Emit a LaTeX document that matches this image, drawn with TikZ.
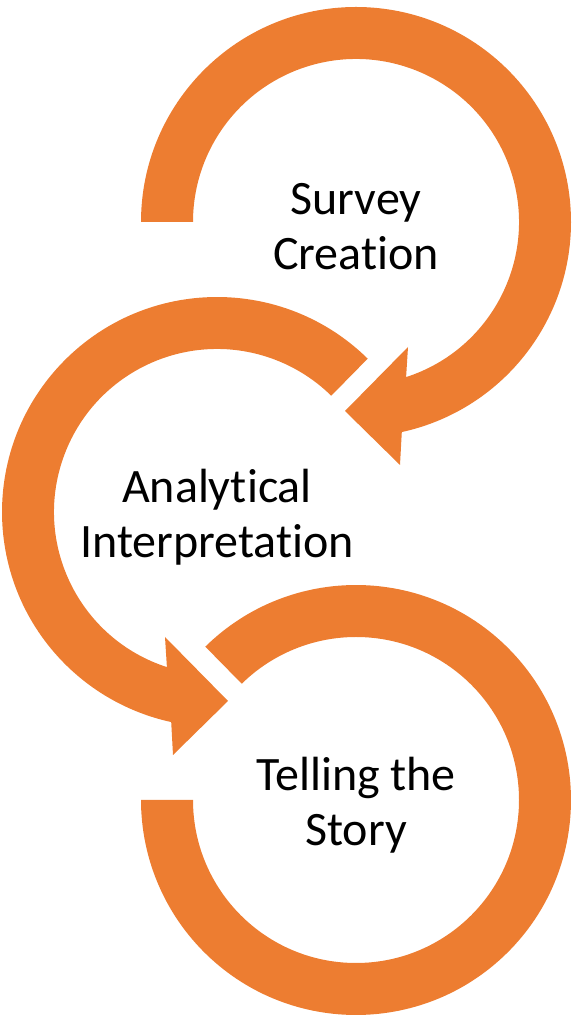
\documentclass[tikz,border=0pt]{standalone}
\usepackage{fontspec}
\setmainfont{Carlito}[Ligatures=NoCommon]
\usepackage{tikz}
\definecolor{ringorange}{HTML}{ED7D31}

\begin{document}
\begin{tikzpicture}[x=1pt,y=1pt,ring/.style={fill=ringorange,draw=none},stage/.style={align=center,text=black,yshift=-5pt,font=\fontsize{48}{55}\selectfont}]
\useasboundingbox (0,0) rectangle (571,1015);
\coordinate (c1) at (356,793);
\coordinate (c2) at (217,503);
\coordinate (c3) at (356,215);
% first ring, arrow head at the bottom
\fill[ring] ([shift={(180:215)}]c1) arc[start angle=180,end angle=-77.7,radius=215]
   -- (400,550) -- (345,604) -- (408,668)
   -- ([shift={(-72.1:163)}]c1) arc[start angle=-72.1,end angle=180,radius=163] -- cycle;
% second ring, mirrored
\fill[ring] ([shift={(45.5:215)}]c2) arc[start angle=45.5,end angle=257.7,radius=215]
   -- (173,260) -- (228,314) -- (165,378)
   -- ([shift={(252.1:163)}]c2) arc[start angle=252.1,end angle=45.5,radius=163] -- cycle;
% last ring, no head
\fill[ring] ([shift={(134.5:215)}]c3) arc[start angle=134.5,end angle=-180,radius=215]
   -- ([shift={(180:163)}]c3) arc[start angle=-180,end angle=134.5,radius=163] -- cycle;
\node[stage] (survey) at (c1) {Survey\\Creation};
\node[stage] (analysis) at (c2) {Analytical\\Interpretation};
\node[stage] (story) at (c3) {Telling the\\Story};
\end{tikzpicture}
\end{document}
